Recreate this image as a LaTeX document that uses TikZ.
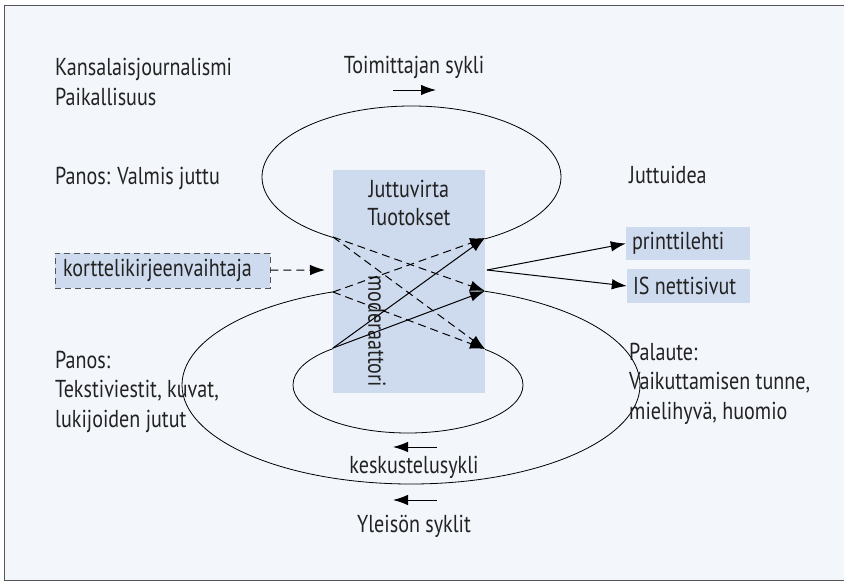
\documentclass[tikz,border=0pt]{standalone}
\usepackage{fontspec}
\setmainfont{PT Sans}[FakeStretch=0.82]
\usetikzlibrary{positioning,arrows.meta}
\definecolor{paper}{HTML}{F3F6FB}
\definecolor{boxblue}{HTML}{CEDBEE}
\definecolor{frame}{HTML}{555555}
\definecolor{ink}{HTML}{222222}
\tikzset{
  plain/.style={inner sep=0pt, align=left, text=ink, font=\fontsize{24.5}{29.5}\selectfont},
  medium/.style={fill=boxblue, inner sep=0pt, text=ink, font=\fontsize{24.5}{29.5}\selectfont},
  cycle/.style={line width=0.8pt},
  flow/.style={line width=1pt},
  longdash/.style={dash pattern=on 8pt off 5pt},
}
\begin{document}
\begin{tikzpicture}[x=1pt,y=-1pt,>={Latex[length=15pt,width=10.5pt]}]
\useasboundingbox (0,0) rectangle (844,582);
\draw[frame,fill=paper,line width=1.2pt] (4.5,5.5) rectangle (850,580.5);

% the three cycles
\draw[cycle] (411.5,177) ellipse [x radius=149.5, y radius=71];
\draw[cycle] (411,385) ellipse [x radius=229, y radius=99];
\draw[cycle] (408,385) ellipse [x radius=115, y radius=48];

% central box
\node[medium, minimum width=152pt, minimum height=223pt] (virta) at (409,281.5) {};
\node[plain, align=center, anchor=base] (juttuvirta) at (409,225) {Juttuvirta\\[-1.5pt]Tuotokset};
\node[plain, rotate=-90] (moderaattori) at (377,331) {moderaattori};

\coordinate (tl) at (333,237);
\coordinate (tr) at (485,238);
\coordinate (ml) at (333,292);
\coordinate (mr) at (485,291);
\coordinate (ll) at (333,348);
\coordinate (lr) at (485,349);

\draw[flow,longdash,->] (tl) -- (mr);
\draw[flow,longdash,->] (tl) -- (lr);
\draw[flow,longdash,->] (ml) -- (tr);
\draw[flow,longdash,->] (ml) -- (lr);
\draw[flow,->] (ll) -- (tr);
\draw[flow,->] (ll) -- (mr);

% outputs
\node[medium, text width=112pt, inner xsep=6pt, minimum height=33pt, align=flush left] (print) at (688,243.5) {printtilehti};
\node[medium, text width=111pt, inner xsep=6pt, minimum height=34pt, align=flush left] (netti) at (688.5,286) {IS nettisivut};
\coordinate (ulos) at (487,270);
\draw[flow,->] (ulos) -- (print.west);
\draw[flow,->] (ulos) -- (netti.west);

% input from the left
\node[medium, draw=frame, dash pattern=on 6pt off 4pt, line width=0.8pt, text width=199pt, inner xsep=8pt, minimum height=35pt, align=flush left] (kortteli) at (162.5,270.5) {korttelikirjeenvaihtaja};
\coordinate (kortteli-end) at (325,270);
\draw[flow,longdash,->] (kortteli) -- (kortteli-end);

% direction arrows
\coordinate (toim-a) at (393,90);
\coordinate (toim-b) at (436,90);
\draw[flow,->] (toim-a) -- (toim-b);
\coordinate (kesk-a) at (437,447);
\coordinate (kesk-b) at (393,447);
\draw[flow,->] (kesk-a) -- (kesk-b);
\coordinate (yle-a) at (437,500);
\coordinate (yle-b) at (393,500);
\draw[flow,->] (yle-a) -- (yle-b);

% labels
\node[plain, anchor=base west] (kansalais) at (55,105) {Kansalaisjournalismi\\Paikallisuus};
\node[plain, anchor=base] (toimittaja) at (414,73) {Toimittajan sykli};
\node[plain, anchor=base west] (valmis) at (55,184) {Panos: Valmis juttu};
\node[plain, anchor=base west] (idea) at (629,183) {Juttuidea};
\node[plain, anchor=base west] (panos) at (55,427) {Panos:\\Tekstiviestit, kuvat,\\lukijoiden jutut};
\node[plain, anchor=base west] (palaute) at (629,419) {Palaute:\\Vaikuttamisen tunne,\\mielihyvä, huomio};
\node[plain, anchor=base] (keskustelu) at (414,473) {keskustelusykli};
\node[plain, anchor=base] (yleiso) at (414,532) {Yleisön syklit};
\end{tikzpicture}
\end{document}
